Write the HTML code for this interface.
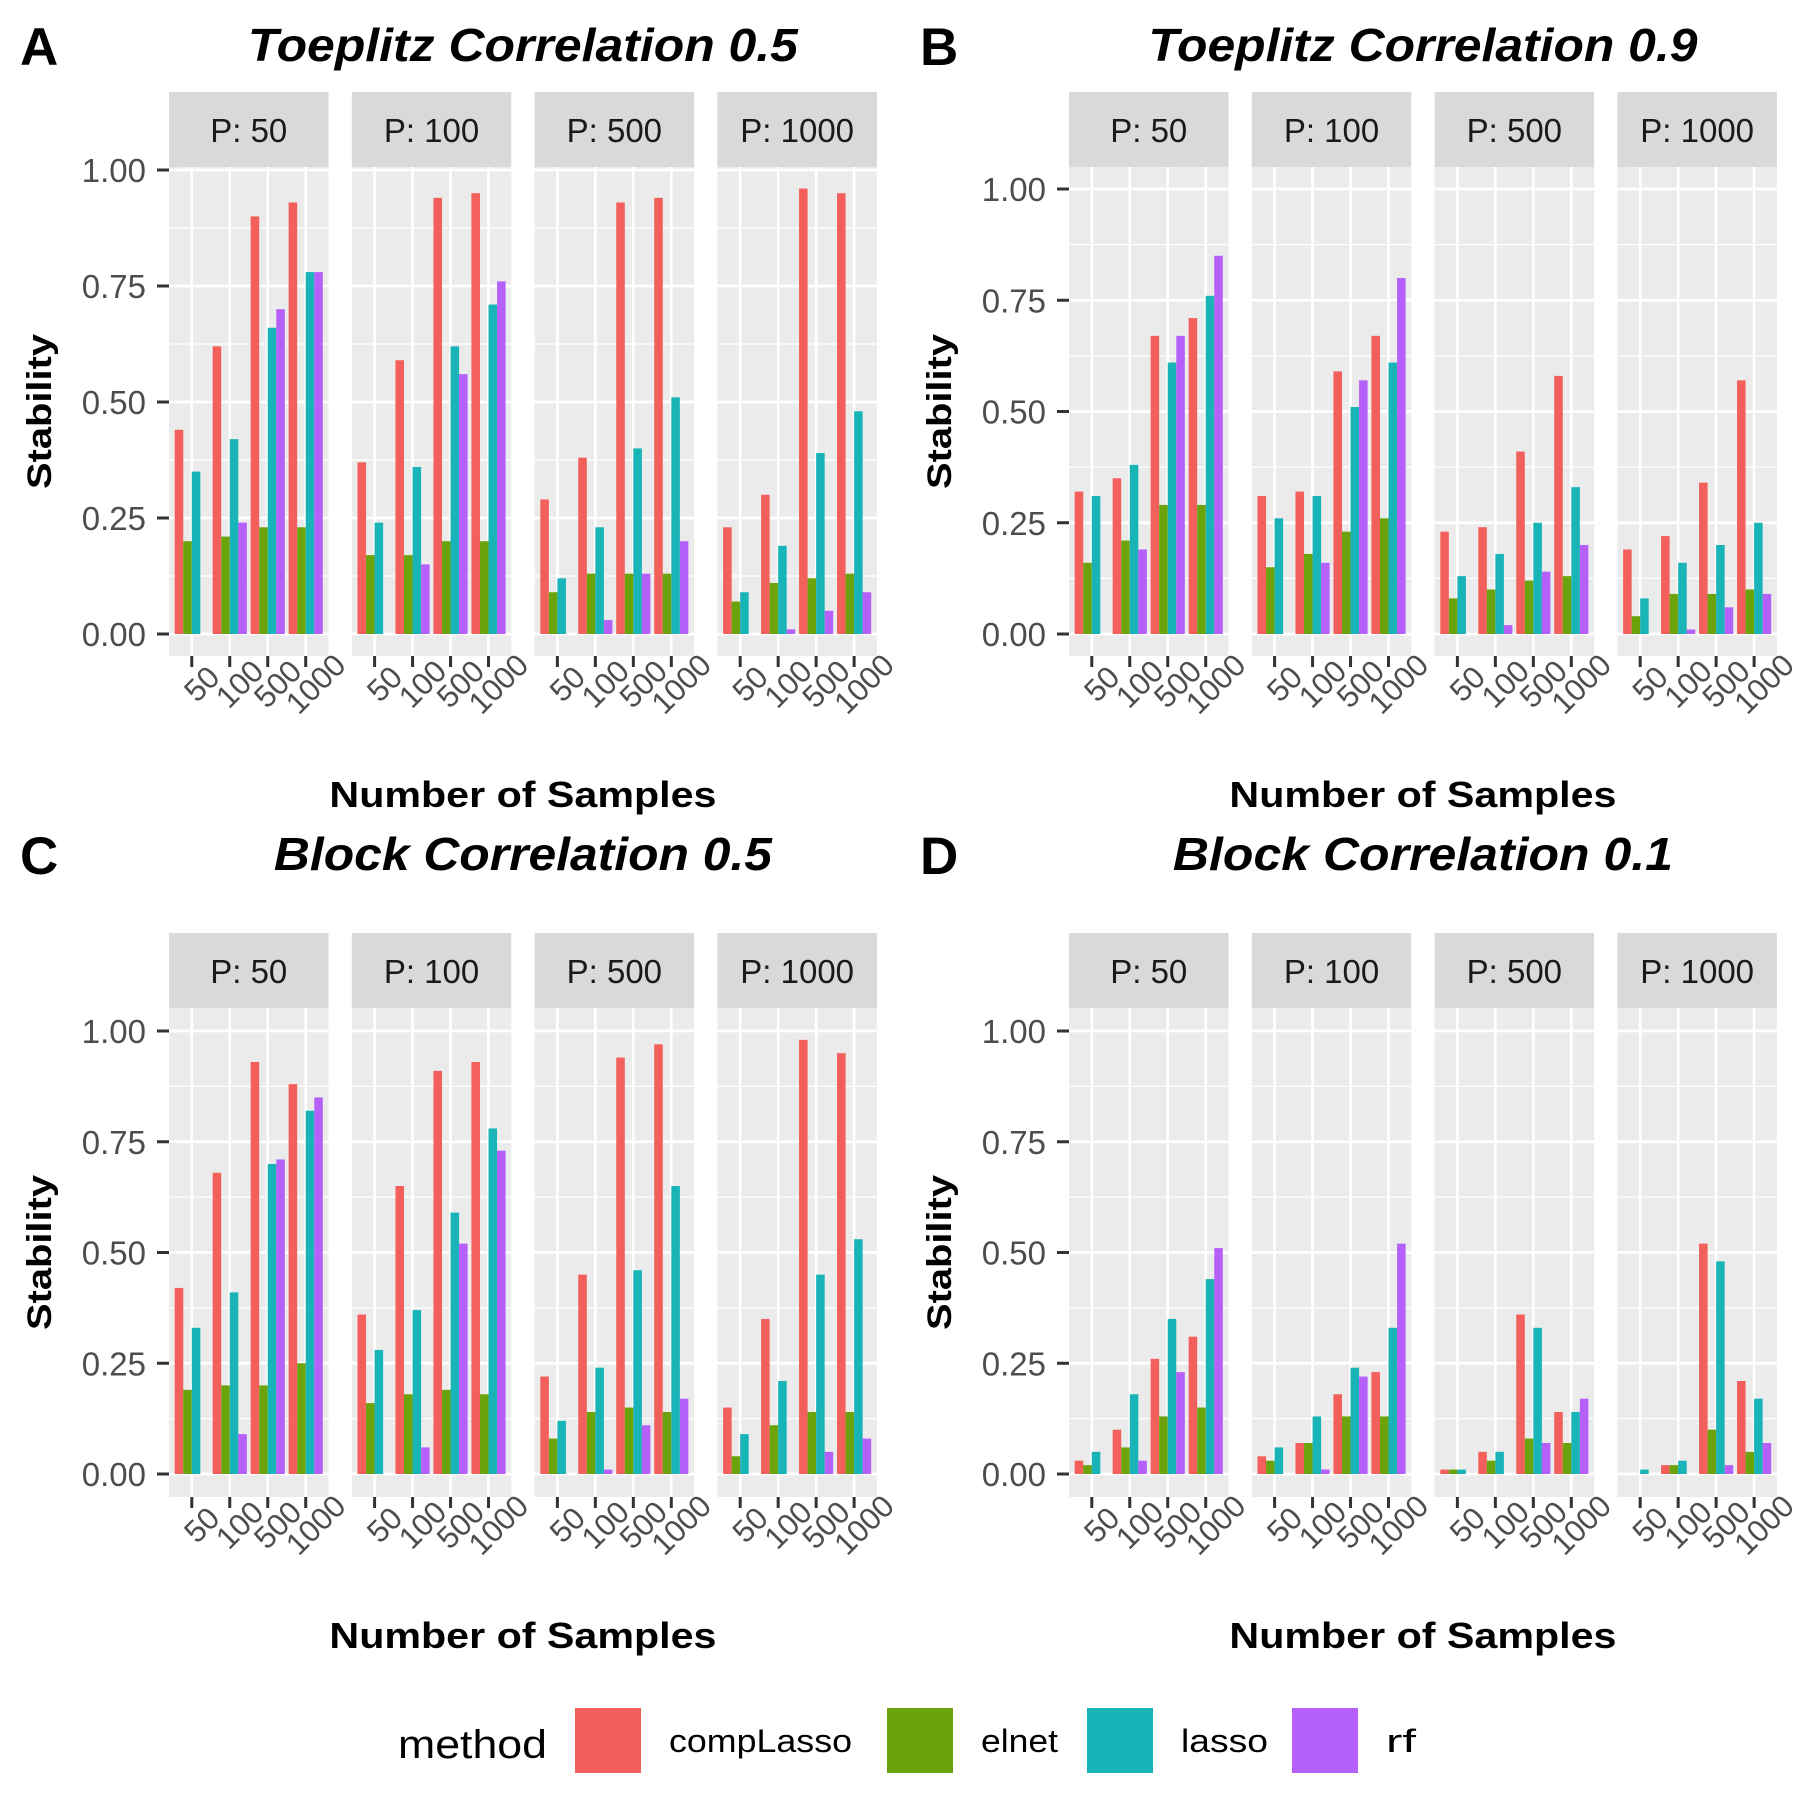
<!DOCTYPE html>
<html><head><meta charset="utf-8"><style>
html,body{margin:0;padding:0;background:#fff}
svg{display:block}
text{font-family:"Liberation Sans",Arial,sans-serif}
</style></head><body>
<svg id="fig" width="1800" height="1800" viewBox="0 0 1800 1800" xmlns="http://www.w3.org/2000/svg"></svg>
<script>
const methods = ["compLasso","elnet","lasso","rf"];
const colors = ["#f35f5b","#6ba30c","#19b4b8","#b561f9"];
const sampleLabels = ["50","100","500","1000"];
const facetLabels = ["P: 50","P: 100","P: 500","P: 1000"];
const yTicks = [0,0.25,0.5,0.75,1];
const yTickLabels = ["0.00","0.25","0.50","0.75","1.00"];
// values[facet][sampleGroup][method]
const valuesA = [
 [[.44,.20,.35,0],[.62,.21,.42,.24],[.90,.23,.66,.70],[.93,.23,.78,.78]],
 [[.37,.17,.24,0],[.59,.17,.36,.15],[.94,.20,.62,.56],[.95,.20,.71,.76]],
 [[.29,.09,.12,0],[.38,.13,.23,.03],[.93,.13,.40,.13],[.94,.13,.51,.20]],
 [[.23,.07,.09,0],[.30,.11,.19,.01],[.96,.12,.39,.05],[.95,.13,.48,.09]]
];
const valuesB = [
 [[.32,.16,.31,0],[.35,.21,.38,.19],[.67,.29,.61,.67],[.71,.29,.76,.85]],
 [[.31,.15,.26,0],[.32,.18,.31,.16],[.59,.23,.51,.57],[.67,.26,.61,.80]],
 [[.23,.08,.13,0],[.24,.10,.18,.02],[.41,.12,.25,.14],[.58,.13,.33,.20]],
 [[.19,.04,.08,0],[.22,.09,.16,.01],[.34,.09,.20,.06],[.57,.10,.25,.09]]
];
const valuesC = [
 [[.42,.19,.33,0],[.68,.20,.41,.09],[.93,.20,.70,.71],[.88,.25,.82,.85]],
 [[.36,.16,.28,0],[.65,.18,.37,.06],[.91,.19,.59,.52],[.93,.18,.78,.73]],
 [[.22,.08,.12,0],[.45,.14,.24,.01],[.94,.15,.46,.11],[.97,.14,.65,.17]],
 [[.15,.04,.09,0],[.35,.11,.21,0],[.98,.14,.45,.05],[.95,.14,.53,.08]]
];
const valuesD = [
 [[.03,.02,.05,0],[.10,.06,.18,.03],[.26,.13,.35,.23],[.31,.15,.44,.51]],
 [[.04,.03,.06,0],[.07,.07,.13,.01],[.18,.13,.24,.22],[.23,.13,.33,.52]],
 [[.01,.01,.01,0],[.05,.03,.05,0],[.36,.08,.33,.07],[.14,.07,.14,.17]],
 [[0,0,.01,0],[.02,.02,.03,0],[.52,.10,.48,.02],[.21,.05,.17,.07]]
];
const panelTitles = ["Toeplitz Correlation 0.5","Toeplitz Correlation 0.9","Block Correlation 0.5","Block Correlation 0.1"];
const panelLetters = ["A","B","C","D"];

const NS="http://www.w3.org/2000/svg";
const svg=document.getElementById('fig');
function mk(tag,attrs,parent,txt){const e=document.createElementNS(NS,tag);for(const k in attrs)e.setAttribute(k,attrs[k]);if(txt!==undefined)e.textContent=txt;(parent||svg).appendChild(e);return e;}

const layouts=[
 {ox:0,top:167,bottom:656,y0:634,scale:464,data:valuesA,ty:61,tw:550},
 {ox:900,top:167,bottom:656,y0:634,scale:445,data:valuesB,ty:61,tw:549},
 {ox:0,top:1008,bottom:1497,y0:1474,scale:443,data:valuesC,ty:870,tw:498},
 {ox:900,top:1008,bottom:1497,y0:1474,scale:443,data:valuesD,ty:870,tw:500}
];
const FW=159.5, FSTEP=182.8, UNIT=FW/4.2, BW=0.225*UNIT;

layouts.forEach((L,pi)=>{
  const g=mk('g',{});
  
  
  const fx0=169+L.ox;
  const yS=v=>L.y0-v*L.scale;
  const lt=mk('text',{x:20+L.ox,y:L.ty+4,'font-size':53,'font-weight':'bold'},g,panelLetters[pi]);
  
  
  const tt=mk('text',{x:fx0+(3*FSTEP+FW)/2,y:L.ty,'font-size':46,'font-weight':'bold','font-style':'italic','text-anchor':'middle',textLength:L.tw,lengthAdjust:'spacingAndGlyphs'},g,panelTitles[pi]);
  
  
  yTicks.forEach((v,i)=>{
    const y=yS(v);
    const tl=mk('text',{x:fx0-23,y:y+12,'font-size':33,fill:'#4d4d4d','text-anchor':'end'},g,yTickLabels[i]);
    
    
    mk('line',{x1:fx0-12,x2:fx0,y1:y,y2:y,stroke:'#333',"stroke-width":3},g);
  });
  const yl=mk('text',{transform:`translate(${40+L.ox},${(L.top+L.bottom)/2}) rotate(-90)`,'font-size':34,'font-weight':'bold','text-anchor':'middle','dominant-baseline':'central',textLength:155,lengthAdjust:'spacingAndGlyphs'},g,'Stability');
  
  
  const xl=mk('text',{x:fx0+(3*FSTEP+FW)/2,y:L.bottom+151,'font-size':36,'font-weight':'bold','text-anchor':'middle',textLength:387,lengthAdjust:'spacingAndGlyphs'},g,'Number of Samples');
  
  
  for(let f=0;f<4;f++){
    const x0=fx0+f*FSTEP;
    const fg=mk('g',{},g);
    
    
    const strip=mk('rect',{x:x0,y:L.top-75,width:FW,height:75,fill:'#d9d9d9'},fg);
    
    
    const st=mk('text',{x:x0+FW/2,y:L.top-25,'font-size':33,fill:'#1a1a1a','text-anchor':'middle'},fg,facetLabels[f]);
    
    
    mk('rect',{x:x0,y:L.top,width:FW,height:L.bottom-L.top,fill:'#ebebeb'},fg);
    for(let v=0.125;v<2;v+=0.25){const y=yS(v);if(y>L.top&&y<L.bottom)mk('line',{x1:x0,x2:x0+FW,y1:y,y2:y,stroke:'#fff','stroke-width':1.3},fg);}
    yTicks.forEach(v=>{const y=yS(v);if(y>L.top&&y<L.bottom)mk('line',{x1:x0,x2:x0+FW,y1:y,y2:y,stroke:'#fff','stroke-width':2.7},fg);});
    for(let k=0;k<4;k++){const cx=x0+(0.6+k)*UNIT;mk('line',{x1:cx,x2:cx,y1:L.top,y2:L.bottom,stroke:'#fff','stroke-width':2.7},fg);}
    for(let k=0;k<4;k++){
      const cx=x0+(0.6+k)*UNIT;
      for(let m=0;m<4;m++){
        const v=L.data[f][k][m];
        const b=mk('rect',{x:cx+(m-2)*BW,y:yS(v),width:BW,height:Math.max(0,yS(0)-yS(v)),fill:colors[m]},fg);
        
        
      }
      mk('line',{x1:cx,x2:cx,y1:L.bottom,y2:L.bottom+11,stroke:'#333','stroke-width':3},fg);
      const xt=mk('text',{transform:`translate(${cx+10},${L.bottom+28}) rotate(-45)`,'font-size':31,fill:'#4d4d4d','text-anchor':'middle','dominant-baseline':'central'},fg,sampleLabels[k]);
      
      
    }
  }
});
const lg=mk('g',{});


const lt=mk('text',{x:398,y:1758,'font-size':40,textLength:149,lengthAdjust:'spacingAndGlyphs'},lg,'method');


const keyX=[575,887,1087,1292];
const labW=[183,77,87,30];
methods.forEach((m,i)=>{
  const e=mk('g',{},lg);
  
  
  mk('rect',{x:keyX[i],y:1708,width:66,height:65,fill:colors[i]},e);
  mk('text',{x:keyX[i]+94,y:1752,'font-size':32,textLength:labW[i],lengthAdjust:'spacingAndGlyphs'},e,m);
});
</script>
</body></html>
